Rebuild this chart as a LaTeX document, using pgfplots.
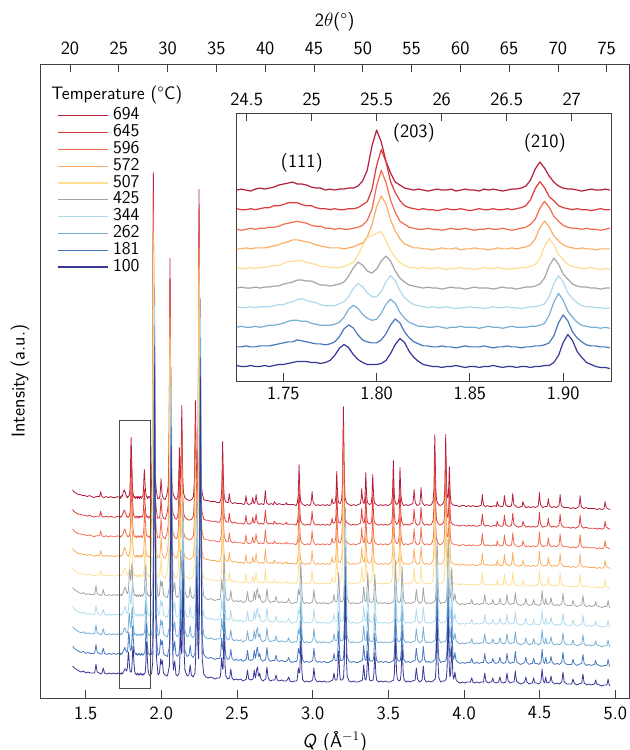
\documentclass[border=0pt]{standalone}
\usepackage{pgfplots}
\pgfplotsset{compat=1.18}
\usepackage{pgfplotstable}
\renewcommand{\familydefault}{\sfdefault}
\definecolor{c694}{RGB}{180,30,60}
\definecolor{c645}{RGB}{220,60,60}
\definecolor{c596}{RGB}{240,110,80}
\definecolor{c572}{RGB}{250,175,100}
\definecolor{c507}{RGB}{254,222,145}
\definecolor{c425}{RGB}{165,165,165}
\definecolor{c344}{RGB}{175,218,238}
\definecolor{c262}{RGB}{120,175,215}
\definecolor{c181}{RGB}{70,120,190}
\definecolor{c100}{RGB}{55,55,150}
\newcommand{\fs}{\fontsize{14}{16}\selectfont}

\pgfplotstableread{
Q v
1.414 32
1.420 30
1.430 29
1.440 28
1.450 27
1.465 27
1.480 26
1.495 26
1.510 25
1.525 26
1.540 25
1.555 24
1.568 25
1.580 25
1.591 25
1.595 27
1.599 30
1.603 27
1.608 25
1.620 24
1.635 25
1.650 24
1.665 25
1.680 24
1.695 24
1.710 25
1.725 24
}\Hleft

\pgfplotstableread{
Q v
1.925 24
1.933 30
1.936 43
1.941 95
1.944 212
1.947 349
1.950 225
1.953 111
1.958 49
1.967 31
1.975 23
1.985 23
1.990 25
1.995 34
1.998 43
2.001 35
2.006 26
2.015 23
2.025 22
2.037 27
2.046 37
2.051 75
2.054 162
2.057 263
2.060 172
2.063 87
2.068 42
2.077 28
2.090 23
2.100 22
2.108 25
2.113 33
2.116 51
2.119 74
2.122 57
2.125 43
2.129 47
2.132 78
2.135 116
2.138 79
2.141 47
2.146 29
2.155 24
2.170 22
2.185 21
2.200 22
2.212 25
2.219 43
2.222 79
2.225 121
2.228 89
2.231 57
2.236 43
2.241 64
2.243 91
2.246 201
2.249 332
2.252 214
2.255 105
2.260 46
2.269 29
2.280 22
2.295 21
2.310 21
2.325 20
2.340 20
2.355 20
2.370 19
2.385 19
2.394 23
2.399 32
2.402 54
2.405 80
2.408 57
2.411 36
2.416 24
2.425 20
2.435 19
2.441 19
2.446 24
2.449 28
2.452 24
2.457 20
2.470 18
2.485 19
2.500 18
2.515 18
2.530 18
2.545 17
2.551 18
2.556 22
2.559 26
2.562 22
2.567 18
2.580 17
2.592 18
2.596 18
2.601 21
2.604 24
2.607 21
2.612 18
2.618 19
2.623 23
2.626 27
2.629 23
2.634 19
2.645 17
2.660 18
2.675 17
2.679 18
2.684 25
2.687 31
2.690 25
2.695 19
2.710 17
2.725 18
2.740 17
2.744 19
2.747 20
2.750 19
2.765 17
2.780 18
2.795 17
2.810 17
2.825 18
2.828 19
2.831 17
2.845 17
2.860 17
2.875 17
2.890 16
2.899 19
2.904 26
2.907 40
2.910 57
2.913 42
2.916 28
2.921 20
2.935 17
2.950 16
2.965 17
2.980 16
2.988 18
2.993 24
2.996 30
2.999 24
3.004 19
3.020 16
3.035 17
3.050 16
3.065 17
3.080 16
3.095 17
3.110 16
3.120 17
3.125 20
3.128 23
3.131 20
3.136 18
3.148 19
3.153 24
3.156 36
3.159 50
3.162 37
3.165 26
3.170 19
3.183 18
3.192 23
3.197 38
3.200 74
3.203 115
3.206 78
3.209 43
3.214 24
3.223 19
3.240 17
3.255 16
3.270 17
3.285 16
3.300 17
3.316 18
3.321 25
3.324 33
3.327 26
3.332 20
3.340 18
3.345 24
3.348 35
3.351 49
3.354 36
3.357 25
3.362 19
3.375 17
3.386 18
3.391 23
3.394 34
3.397 47
3.400 35
3.403 25
3.408 19
3.420 17
3.435 16
3.450 17
3.465 16
3.480 17
3.495 16
3.510 17
3.522 19
3.527 26
3.530 42
3.533 61
3.536 44
3.539 28
3.544 20
3.555 17
3.566 19
3.571 25
3.574 38
3.577 54
3.580 40
3.583 27
3.588 20
3.600 16
3.615 17
3.630 16
3.645 17
3.662 18
3.667 25
3.670 32
3.673 26
3.678 19
3.690 16
3.705 17
3.708 18
3.713 26
3.716 34
3.719 27
3.724 19
3.740 16
3.755 17
3.770 16
3.785 17
3.796 21
3.801 32
3.804 57
3.807 87
3.810 60
3.813 35
3.818 22
3.827 18
3.840 16
3.855 17
3.868 20
3.873 32
3.876 57
3.879 87
3.882 61
3.885 36
3.890 24
3.895 24
3.897 27
3.900 39
3.903 55
3.906 40
3.909 27
3.914 19
3.925 17
3.940 16
3.955 16
3.970 15
3.985 16
4.000 16
4.015 15
4.030 16
4.045 15
4.060 16
4.075 15
4.090 15
4.105 16
4.113 16
4.118 22
4.121 27
4.124 22
4.129 17
4.140 15
4.155 16
4.170 15
4.185 15
4.200 16
4.214 15
4.217 18
4.220 20
4.223 18
4.228 16
4.240 15
4.255 15
4.259 16
4.264 21
4.267 26
4.270 22
4.275 17
4.290 15
4.305 15
4.314 16
4.319 22
4.322 28
4.325 23
4.330 17
4.345 15
4.360 14
4.375 15
4.384 15
4.387 18
4.390 20
4.393 18
4.398 16
4.410 14
4.425 15
4.440 14
4.455 15
4.470 14
4.485 15
4.490 16
4.495 22
4.498 29
4.501 23
4.506 17
4.520 14
4.535 15
4.549 15
4.554 19
4.557 23
4.560 19
4.565 16
4.580 14
4.595 15
4.610 14
4.627 16
4.632 21
4.635 27
4.638 22
4.643 16
4.660 14
4.675 14
4.690 14
4.705 13
4.720 14
4.735 13
4.750 14
4.759 15
4.764 20
4.767 26
4.770 21
4.775 15
4.790 13
4.805 14
4.820 13
4.835 13
4.850 13
4.865 13
4.880 12
4.895 13
4.910 12
4.924 13
4.929 16
4.932 20
4.935 17
4.940 14
4.950 13
4.965 12
}\Hright

\pgfplotstableread{
Q v
1.414 32
1.425 30
1.435 29
1.445 28
1.455 27
1.470 26
1.485 27
1.500 25
1.515 26
1.530 25
1.545 25
1.556 25
1.560 26
1.5645 30
1.568 34
1.5715 30
1.576 26
1.590 25
1.600 24
1.608 25
1.6125 28
1.616 30
1.6195 28
1.624 25
1.640 24
1.655 25
1.670 24
1.685 25
1.700 24
1.712 25
1.725 24
}\Cleft

\pgfplotstableread{
Q v
1.925 24
1.935 24
1.943 36
1.948 85
1.9515 209
1.955 333
1.9585 225
1.962 101
1.967 42
1.978 23
1.987 25
1.9915 32
1.995 39
1.9985 34
2.0025 34
2.006 38
2.0095 32
2.014 25
2.025 23
2.040 22
2.053 32
2.058 68
2.0615 160
2.065 252
2.0685 172
2.072 80
2.077 36
2.080 28
2.0845 33
2.088 37
2.0915 32
2.096 24
2.105 22
2.1155 24
2.1205 31
2.124 49
2.1275 69
2.131 55
2.1345 44
2.1365 47
2.140 82
2.1435 118
2.147 84
2.1505 46
2.1555 28
2.170 22
2.182 23
2.1865 28
2.190 33
2.1935 29
2.198 23
2.210 21
2.222 25
2.227 41
2.2305 81
2.234 121
2.2375 92
2.241 54
2.246 39
2.251 82
2.2545 201
2.258 321
2.2615 216
2.265 96
2.270 39
2.280 24
2.295 21
2.310 20
2.325 21
2.340 20
2.355 19
2.370 20
2.386 20
2.391 23
2.3945 31
2.398 40
2.4015 34
2.405 29
2.4076 29
2.411 46
2.4146 64
2.418 48
2.4216 30
2.4266 22
2.438 19
2.451 20
2.4553 25
2.4588 29
2.4623 25
2.467 20
2.480 18
2.495 19
2.510 18
2.525 19
2.540 17
2.552 18
2.561 19
2.5657 24
2.5692 28
2.5727 24
2.577 19
2.590 18
2.606 19
2.6105 24
2.614 28
2.6175 24
2.621 20
2.6255 23
2.629 28
2.6325 30
2.636 31
2.6395 25
2.643 22
2.6465 22
2.650 25
2.6535 22
2.658 19
2.670 17
2.6897 19
2.6942 26
2.6977 31
2.7012 26
2.7057 20
2.720 17
2.735 18
2.750 18
2.7545 21
2.758 23
2.7615 21
2.766 18
2.780 17
2.795 18
2.810 17
2.825 17
2.8365 19
2.840 21
2.8435 20
2.850 17
2.865 16
2.880 17
2.893 17
2.897 18
2.9015 24
2.905 30
2.9085 26
2.913 25
2.9146 26
2.918 41
2.9216 57
2.9251 43
2.9286 27
2.9336 19
2.945 16
2.960 17
2.975 16
2.990 17
3.000 18
3.0045 24
3.008 30
3.0115 25
3.016 19
3.030 16
3.045 17
3.060 16
3.075 17
3.090 16
3.105 16
3.120 17
3.1325 18
3.137 21
3.1405 25
3.144 22
3.1485 18
3.1596 18
3.1646 23
3.1681 35
3.1716 47
3.1751 36
3.1786 24
3.1836 18
3.195 18
3.2038 20
3.2088 36
3.2123 74
3.2158 112
3.2193 78
3.2228 40
3.2278 22
3.240 17
3.255 16
3.270 17
3.285 16
3.300 16
3.315 17
3.329 18
3.3335 26
3.337 33
3.3405 27
3.345 19
3.352 18
3.357 23
3.3605 35
3.364 47
3.3675 36
3.371 24
3.376 18
3.3875 17
3.3986 18
3.4036 22
3.4071 33
3.4106 45
3.4141 35
3.4176 24
3.4226 18
3.435 16
3.450 17
3.465 16
3.480 17
3.495 16
3.510 16
3.523 17
3.535 18
3.540 25
3.5435 42
3.547 59
3.5505 44
3.554 27
3.559 19
3.570 17
3.579 18
3.584 24
3.5875 38
3.591 53
3.5945 40
3.598 26
3.603 19
3.615 16
3.630 17
3.645 16
3.660 17
3.677 18
3.6815 25
3.685 30
3.6885 25
3.693 19
3.705 16
3.723 18
3.7275 26
3.731 32
3.7345 26
3.739 19
3.750 16
3.765 17
3.780 16
3.795 17
3.810 19
3.815 29
3.8185 55
3.822 81
3.8255 59
3.829 33
3.834 20
3.845 16
3.860 17
3.872 17
3.883 19
3.888 29
3.8915 55
3.895 81
3.8985 59
3.902 33
3.907 21
3.912 24
3.9155 38
3.919 52
3.9225 39
3.926 25
3.931 19
3.9365 22
3.940 26
3.9435 22
3.948 18
3.960 16
3.975 15
3.990 16
4.005 15
4.020 16
4.042 16
4.0465 18
4.050 20
4.0535 19
4.058 16
4.070 15
4.085 16
4.100 15
4.115 16
4.129 16
4.1335 21
4.137 25
4.1405 21
4.145 17
4.160 15
4.175 16
4.182 16
4.1865 18
4.190 20
4.1935 18
4.198 16
4.210 15
4.229 16
4.2335 19
4.237 21
4.2405 19
4.245 16
4.260 15
4.276 16
4.2805 21
4.284 25
4.2875 21
4.292 17
4.305 15
4.320 16
4.331 16
4.3355 22
4.339 27
4.3425 22
4.347 17
4.360 15
4.375 14
4.390 15
4.400 16
4.4045 18
4.408 21
4.4115 19
4.416 16
4.430 14
4.445 15
4.452 15
4.4565 18
4.460 20
4.4635 18
4.468 15
4.480 15
4.495 14
4.508 16
4.5125 23
4.516 29
4.5195 23
4.524 17
4.532 15
4.5365 18
4.540 21
4.5435 18
4.548 15
4.567 16
4.5715 19
4.575 22
4.5785 19
4.583 16
4.600 14
4.615 15
4.630 14
4.646 16
4.6505 21
4.654 26
4.6575 22
4.662 16
4.680 14
4.695 14
4.712 14
4.7165 17
4.720 19
4.7235 17
4.728 15
4.745 13
4.760 14
4.778 15
4.7825 20
4.786 24
4.7895 20
4.794 15
4.810 13
4.825 14
4.840 13
4.862 14
4.8665 16
4.870 18
4.8735 16
4.878 14
4.895 13
4.910 12
4.925 13
4.944 13
4.9485 16
4.952 19
4.9555 16
4.960 13
4.965 12
}\Cright

\pgfplotstableread{
Q s0 s1 s2 s3 s4 s5 s6 s7 s8 s9
1.7250 1 0 0 1 0 1 0 0 1 0
1.7275 0 0 1 0 1 0 0 -1 0 1
1.7300 0 1 0 0 0 0 1 0 0 0
1.7325 1 0 0 1 0 1 0 1 1 -1
1.7350 0 0 1 0 1 0 1 0 0 1
1.7375 0 1 0 1 0 1 1 1 1 2
1.7400 1 1 1 1 1 1 1 1 2 1
1.7425 0 1 2 1 1 2 2 2 2 2
1.7450 1 2 2 2 2 3 3 2 4 3
1.7475 2 3 3 3 2 3 4 3 4 5
1.7500 2 4 4 3 4 5 6 5 5 6
1.7525 3 5 6 5 5 7 7 6 7 7
1.7550 4 5 7 6 6 7 9 7 7 8
1.7575 5 7 7 8 8 8 9 8 7 6
1.7600 5 6 6 9 8 8 8 7 5 6
1.7625 5 5 6 7 7 6 7 6 4 5
1.7650 4 4 4 6 7 5 6 4 4 3
1.7675 4 3 3 5 5 4 4 3 2 2
1.7700 3 3 2 3 3 2 3 3 1 2
1.7725 4 2 2 2 3 2 2 1 1 0
1.7750 6 3 2 2 2 1 1 1 0 1
1.7775 11 5 3 2 3 1 1 0 1 0
1.7800 18 10 5 4 4 1 1 1 0 1
1.7825 22 18 10 6 6 2 0 0 0 1
1.7850 19 22 18 11 12 4 1 0 1 2
1.7875 12 19 22 19 20 6 2 1 1 2
1.7900 7 12 19 24 26 13 4 2 2 4
1.7925 4 7 13 21 23 23 6 4 5 9
1.7950 2 5 9 15 17 31 12 9 8 20
1.7975 2 4 7 11 15 33 24 20 20 44
1.8000 2 4 8 11 19 35 42 43 44 60
1.8025 3 7 14 16 27 37 53 59 60 48
1.8050 6 13 23 26 32 28 45 47 48 29
1.8075 13 22 28 32 27 18 29 29 28 17
1.8100 22 28 24 27 17 11 18 17 17 8
1.8125 28 24 15 17 10 6 10 8 9 5
1.8150 24 15 9 10 6 3 5 5 4 2
1.8175 15 9 5 6 3 1 3 2 2 1
1.8200 9 5 3 3 2 1 1 1 1 0
1.8225 5 3 1 2 1 0 1 0 0 1
1.8250 2 1 1 1 0 1 0 0 1 0
1.8275 1 1 0 0 1 0 0 1 0 -1
1.8300 0 0 0 1 0 0 -1 0 0 0
1.8325 0 0 1 0 0 1 0 0 -1 1
1.8350 -1 1 0 0 -1 0 1 -1 0 0
1.8375 0 0 -1 1 0 -1 0 0 1 0
1.8400 0 0 0 0 1 0 0 1 0 1
1.8425 1 -1 0 -1 0 0 1 0 0 -1
1.8450 0 0 1 0 0 1 -1 0 1 0
1.8475 -1 1 0 0 -1 0 0 1 0 1
1.8500 0 0 0 1 0 0 0 0 -1 0
1.8525 0 0 0 0 1 -1 1 -1 0 0
1.8550 -1 0 -1 0 0 0 0 0 1 -1
1.8575 0 1 0 -1 0 1 0 0 0 1
1.8600 0 0 1 0 0 0 -1 1 0 0
1.8625 1 -1 0 1 -1 0 0 0 1 1
1.8650 0 0 0 0 0 1 1 0 0 0
1.8675 -1 0 -1 0 1 0 0 1 0 -1
1.8700 0 1 0 1 0 -1 0 0 1 0
1.8725 0 0 1 0 0 0 1 -1 0 1
1.8750 -1 0 0 0 -1 0 0 0 1 1
1.8775 0 -1 0 -1 0 1 1 1 2 2
1.8800 0 0 0 0 1 1 2 2 4 4
1.8825 -1 0 1 1 1 2 4 5 10 10
1.8850 0 1 1 1 2 4 10 10 21 21
1.8875 0 1 2 2 4 10 21 21 28 28
1.8900 1 2 4 4 10 22 28 28 22 22
1.8925 1 4 12 11 22 30 22 22 13 14
1.8950 4 11 25 24 30 24 13 13 9 8
1.8975 11 24 34 32 24 14 8 8 4 4
1.9000 24 32 27 26 14 9 4 4 2 2
1.9025 32 26 16 15 9 4 2 2 1 1
1.9050 26 15 10 9 4 2 1 1 0 1
1.9075 15 9 5 5 2 1 0 1 1 0
1.9100 9 5 2 2 1 0 1 0 0 -1
1.9125 4 2 1 1 1 0 0 1 0 0
1.9150 2 1 0 1 0 1 0 0 -1 1
1.9175 0 1 0 0 0 0 -1 0 0 0
1.9200 -1 0 -1 0 -1 -1 0 -1 1 0
1.9225 -1 0 0 -1 0 0 0 0 0 1
1.9250 -2 -1 -1 0 0 -1 0 1 0 0
}\Ins

\pgfplotsset{
  every axis/.append style={
    scale only axis,
    tick align=inside,
    major tick length=6pt,
    axis line style={black!75, line width=0.6pt},
    every tick/.style={black!75, line width=0.6pt},
    tick label style={font=\fs},
    label style={font=\fs},
  },
  every axis plot/.append style={line join=round},
}

\begin{document}
\begin{tikzpicture}
% ---------------- main axis ----------------
\begin{axis}[
  name=main, at={(0pt,0pt)}, anchor=south west,
  width=442pt, height=475.5pt,
  xmin=1.198, xmax=5.0925, ymin=0, ymax=634,
  xtick={1.5,2,2.5,3,3.5,4,4.5,5},
  xticklabels={1.5,2.0,2.5,3.0,3.5,4.0,4.5,5.0},
  xtick pos=left, ytick=\empty,
  xticklabel style={yshift=-3pt},
  xlabel={\textit{Q} (Å$^{-1}$)},
  xlabel style={at={(axis description cs:0.5,-0.069)}, anchor=center},
  ylabel={Intensity (a.u.)},
  ylabel style={at={(axis description cs:-0.034,0.5)}, anchor=center},
  legend style={at={(axis description cs:0.0288,0.9315)}, anchor=north west,
    draw=none, fill=none, inner sep=0pt, outer sep=0pt, row sep=0pt,
    font=\fontsize{13.5}{13.5}\selectfont,
    nodes={inner sep=0pt, text height=9.3pt, text depth=3.3pt},
    /tikz/every odd column/.append style={column sep=3.75pt}},
  legend cell align=left,
  legend image code/.code={\draw[#1, line width=0.8pt] (0pt,0pt) -- (37.5pt,0pt);},
]
\addplot[c694, line width=0.6pt] table[x=Q, y expr=\thisrow{v}+176.4] {\Hleft};
\addlegendentry{694}
\addplot[c694, line width=0.6pt, forget plot] table[x=Q, y expr=\thisrow{s9}+200.4] {\Ins};
\addplot[c694, line width=0.6pt, forget plot] table[x=Q, y expr=\thisrow{v}+176.4] {\Hright};

\addplot[c645, line width=0.6pt] table[x=Q, y expr=\thisrow{v}+156.8] {\Hleft};
\addlegendentry{645}
\addplot[c645, line width=0.6pt, forget plot] table[x=Q, y expr=\thisrow{s8}+180.8] {\Ins};
\addplot[c645, line width=0.6pt, forget plot] table[x=Q, y expr=\thisrow{v}+156.8] {\Hright};

\addplot[c596, line width=0.6pt] table[x=Q, y expr=\thisrow{v}+137.2] {\Hleft};
\addlegendentry{596}
\addplot[c596, line width=0.6pt, forget plot] table[x=Q, y expr=\thisrow{s7}+161.2] {\Ins};
\addplot[c596, line width=0.6pt, forget plot] table[x=Q, y expr=\thisrow{v}+137.2] {\Hright};

\addplot[c572, line width=0.6pt] table[x=Q, y expr=\thisrow{v}+117.6] {\Hleft};
\addlegendentry{572}
\addplot[c572, line width=0.6pt, forget plot] table[x=Q, y expr=\thisrow{s6}+141.6] {\Ins};
\addplot[c572, line width=0.6pt, forget plot] table[x=Q, y expr=\thisrow{v}+117.6] {\Hright};

\addplot[c507, line width=0.6pt] table[x=Q, y expr=\thisrow{v}+98] {\Hleft};
\addlegendentry{507}
\addplot[c507, line width=0.6pt, forget plot] table[x=Q, y expr=\thisrow{s5}+122] {\Ins};
\addplot[c507, line width=0.6pt, forget plot] table[x=Q, y expr=\thisrow{v}+98] {\Hright};

\addplot[c425, line width=0.6pt] table[x=Q, y expr=\thisrow{v}+78.4] {\Cleft};
\addlegendentry{425}
\addplot[c425, line width=0.6pt, forget plot] table[x=Q, y expr=\thisrow{s4}+102.4] {\Ins};
\addplot[c425, line width=0.6pt, forget plot] table[x=Q, y expr=\thisrow{v}+78.4] {\Cright};

\addplot[c344, line width=0.6pt] table[x=Q, y expr=\thisrow{v}+58.8] {\Cleft};
\addlegendentry{344}
\addplot[c344, line width=0.6pt, forget plot] table[x=Q, y expr=\thisrow{s3}+82.8] {\Ins};
\addplot[c344, line width=0.6pt, forget plot] table[x=Q, y expr=\thisrow{v}+58.8] {\Cright};

\addplot[c262, line width=0.6pt] table[x=Q, y expr=\thisrow{v}+39.2] {\Cleft};
\addlegendentry{262}
\addplot[c262, line width=0.6pt, forget plot] table[x=Q, y expr=\thisrow{s2}+63.2] {\Ins};
\addplot[c262, line width=0.6pt, forget plot] table[x=Q, y expr=\thisrow{v}+39.2] {\Cright};

\addplot[c181, line width=0.6pt] table[x=Q, y expr=\thisrow{v}+19.6] {\Cleft};
\addlegendentry{181}
\addplot[c181, line width=0.6pt, forget plot] table[x=Q, y expr=\thisrow{s1}+43.6] {\Ins};
\addplot[c181, line width=0.6pt, forget plot] table[x=Q, y expr=\thisrow{v}+19.6] {\Cright};

\addplot[c100, line width=0.6pt] table[x=Q, y=v] {\Cleft};
\addlegendentry{100}
\addplot[c100, line width=0.6pt, forget plot] table[x=Q, y expr=\thisrow{s0}+24] {\Ins};
\addplot[c100, line width=0.6pt, forget plot] table[x=Q, y=v] {\Cright};

\draw[black!70, line width=0.6pt] (axis cs:1.725,9.5) rectangle (axis cs:1.925,277.2);
\end{axis}

% ---------------- top 2theta axis ----------------
\begin{axis}[
  at={(0pt,0pt)}, anchor=south west,
  width=442pt, height=475.5pt,
  xmin=16.926, xmax=77.317, ymin=0, ymax=1,
  axis x line*=top, axis y line=none,
  xtick={20,25,30,35,40,45,50,55,60,65,70,75},
  xticklabels={20,25,30,35,40,45,50,55,60,65,70,75},
  xticklabel style={yshift=3pt},
  xlabel={2$\theta$(°)},
  xlabel style={at={(axis description cs:0.5,1.066)}, anchor=center},
]
\end{axis}

% ---------------- inset ----------------
\begin{axis}[
  at={(147.5pt,237.75pt)}, anchor=south west,
  width=280.7pt, height=200.8pt,
  xmin=1.725, xmax=1.9256, ymin=9.5, ymax=277.2,
  axis background/.style={fill=white},
  xtick={1.75,1.80,1.85,1.90},
  xticklabels={1.75,1.80,1.85,1.90},
  xtick pos=left, ytick=\empty,
  xticklabel style={yshift=-1pt},
]
\addplot[c694, line width=0.9pt] table[x=Q, y expr=\thisrow{s9}+200.4] {\Ins};
\addplot[c645, line width=0.9pt] table[x=Q, y expr=\thisrow{s8}+180.8] {\Ins};
\addplot[c596, line width=0.9pt] table[x=Q, y expr=\thisrow{s7}+161.2] {\Ins};
\addplot[c572, line width=0.9pt] table[x=Q, y expr=\thisrow{s6}+141.6] {\Ins};
\addplot[c507, line width=0.9pt] table[x=Q, y expr=\thisrow{s5}+122] {\Ins};
\addplot[c425, line width=0.9pt] table[x=Q, y expr=\thisrow{s4}+102.4] {\Ins};
\addplot[c344, line width=0.9pt] table[x=Q, y expr=\thisrow{s3}+82.8] {\Ins};
\addplot[c262, line width=0.9pt] table[x=Q, y expr=\thisrow{s2}+63.2] {\Ins};
\addplot[c181, line width=0.9pt] table[x=Q, y expr=\thisrow{s1}+43.6] {\Ins};
\addplot[c100, line width=0.9pt] table[x=Q, y expr=\thisrow{s0}+24] {\Ins};
\node[font=\fs] at (axis cs:1.7599,227.2) {(111)};
\node[font=\fs] at (axis cs:1.8200,257.2) {(203)};
\node[font=\fs] at (axis cs:1.8902,247.2) {(210)};
\end{axis}

\begin{axis}[
  at={(147.5pt,237.75pt)}, anchor=south west,
  width=280.7pt, height=200.8pt,
  xmin=24.423, xmax=27.302, ymin=0, ymax=1,
  axis x line*=top, axis y line=none,
  xtick={24.5,25,25.5,26,26.5,27},
  xticklabels={24.5,25,25.5,26,26.5,27},
  xticklabel style={yshift=2pt},
]
\end{axis}

\node[anchor=base west, font=\fontsize{13.5}{13.5}\selectfont] at (5pt,449pt) {Temperature (°C)};

\pgfresetboundingbox
\useasboundingbox (-30pt,-39pt) rectangle (442.5pt,523.5pt);
\end{tikzpicture}
\end{document}
